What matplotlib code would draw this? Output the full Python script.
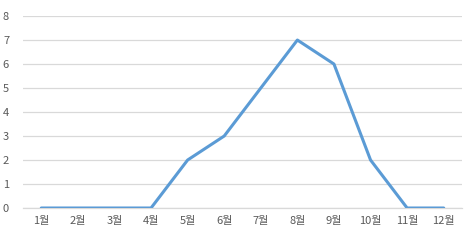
import matplotlib
matplotlib.use("Agg")
import matplotlib.pyplot as plt

plt.rcParams['font.family'] = ['Noto Sans CJK KR', 'DejaVu Sans']

months = ['1월', '2월', '3월', '4월', '5월', '6월', '7월', '8월', '9월', '10월', '11월', '12월']
values = [0, 0, 0, 0, 2, 3, 5, 7, 6, 2, 0, 0]

fig = plt.figure(figsize=(4.76, 2.43), dpi=100)
ax = fig.add_axes([0.0483, 0.144, 0.9223, 0.790])

x = range(len(months))
ax.plot(x, values, color='#5B9BD5', linewidth=2.2, solid_capstyle='round', zorder=3)

ax.set_xlim(-0.5, len(months) - 0.5)
ax.set_ylim(0, 8)
ax.set_yticks(range(0, 9))
ax.set_xticks(list(x))
ax.set_xticklabels(months)

ax.grid(axis='y', color='#D9D9D9', linewidth=0.9)
ax.set_axisbelow(True)
for s in ['top', 'right', 'left']:
    ax.spines[s].set_visible(False)
ax.spines['bottom'].set_color('#D9D9D9')
ax.spines['bottom'].set_linewidth(0.9)

ax.tick_params(axis='both', length=0, labelsize=8, labelcolor='#595959')
ax.tick_params(axis='y', pad=10)
ax.tick_params(axis='x', pad=6)

fig.savefig('out.png', dpi=100)
